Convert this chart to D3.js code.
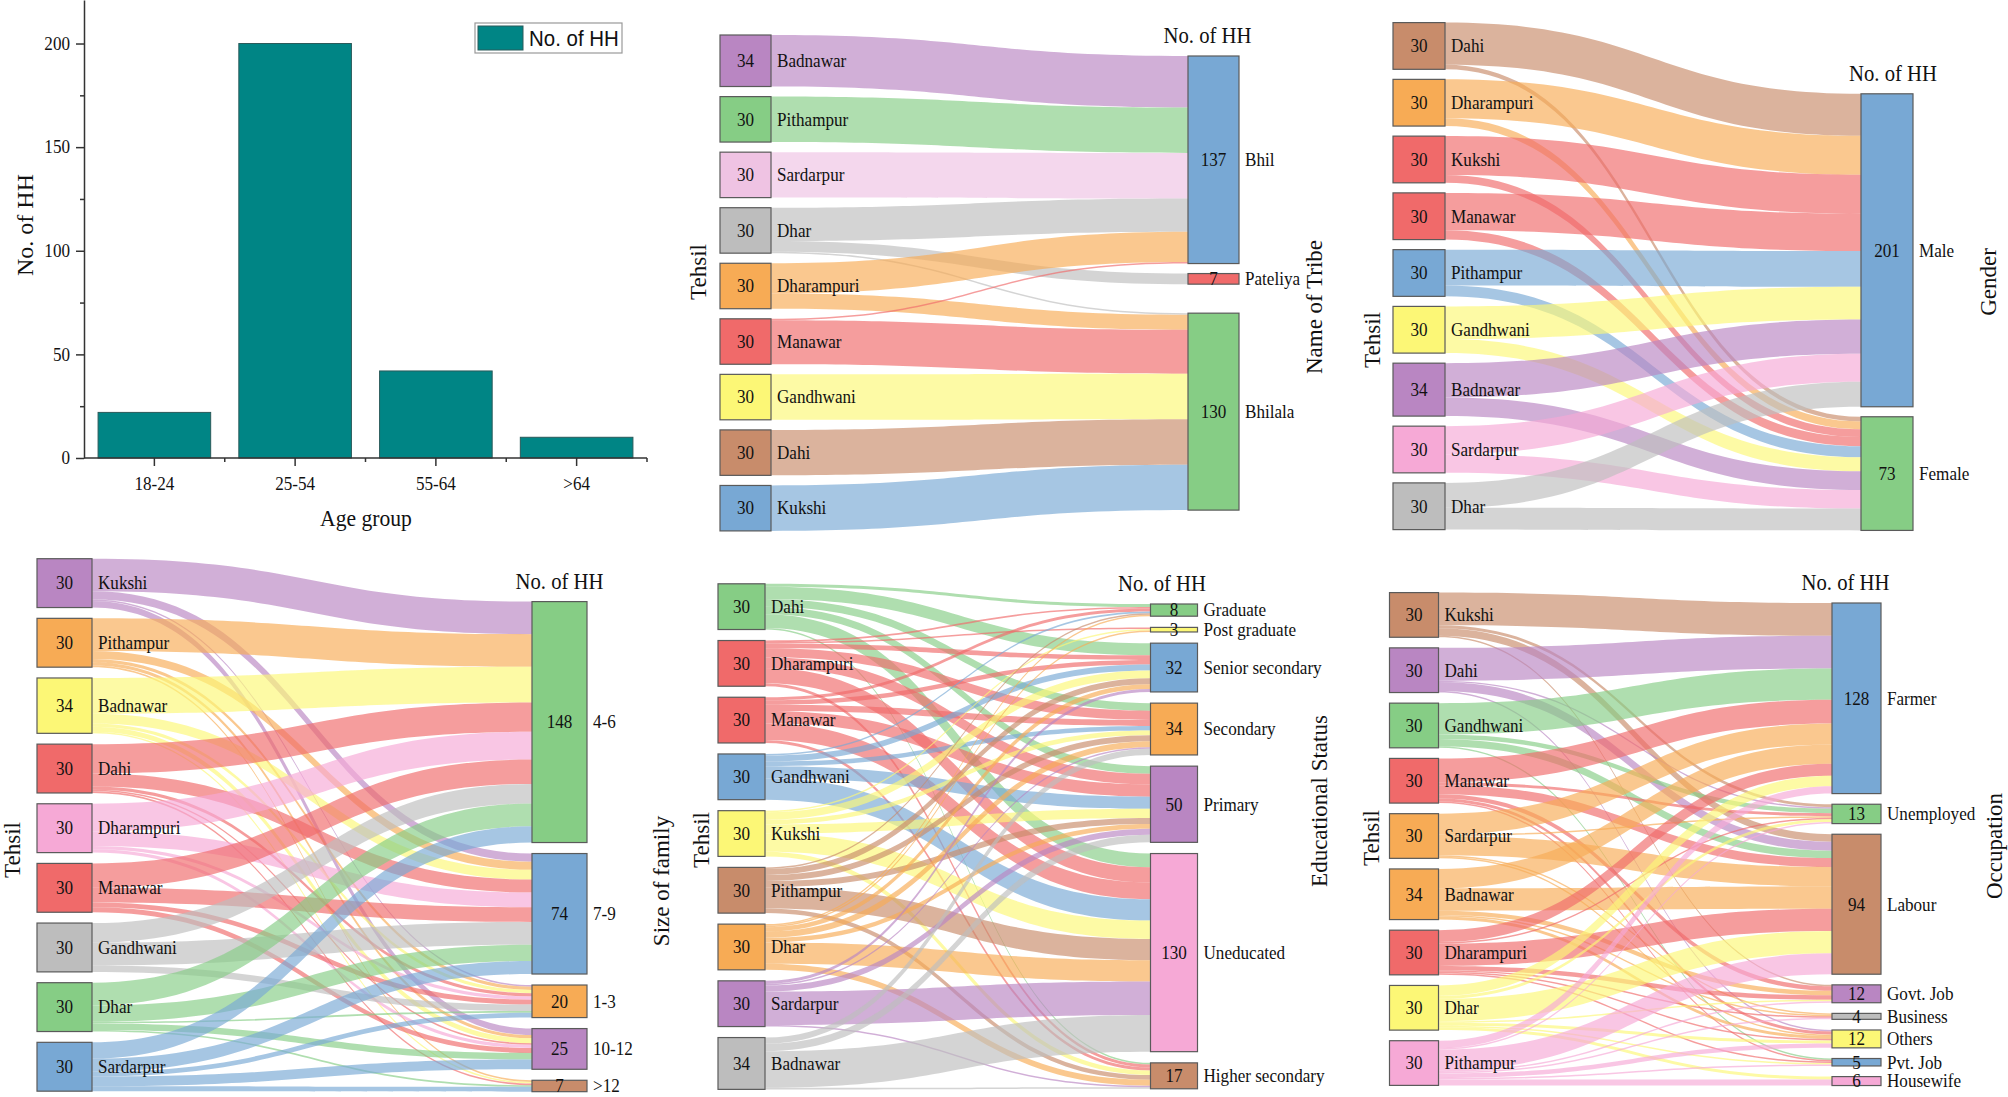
<!DOCTYPE html>
<html><head><meta charset="utf-8">
<script src="https://cdn.jsdelivr.net/npm/d3@7"></script>
<style>
html,body{margin:0;padding:0;background:#fff;}
svg{display:block;}
text{font-family:"Liberation Serif","Times New Roman",serif;fill:#111;}
</style></head><body>
<svg id="chart" width="2008" height="1097"></svg>
<script>
// ================= DATA =================
// Bar chart: age group
const ageGroups = ["18-24", "25-54", "55-64", ">64"];
const ageHH = [22, 200, 42, 10];
const ageTicks = [0, 50, 100, 150, 200];
const ageMinorTicks = [25, 75, 125, 175];

// Sankey 1: Tehsil -> Name of Tribe
const tribeSources = ["Badnawar", "Pithampur", "Sardarpur", "Dhar", "Dharampuri", "Manawar", "Gandhwani", "Dahi", "Kukshi"];
const tribeTargets = ["Bhil", "Pateliya", "Bhilala"];
const tribeFlows = [
  [34, 0, 0], [30, 0, 0], [30, 0, 0], [22, 7, 1], [20, 0, 10],
  [1, 0, 29], [0, 0, 30], [0, 0, 30], [0, 0, 30]
];

// Sankey 2: Tehsil -> Gender
const genderSources = ["Dahi", "Dharampuri", "Kukshi", "Manawar", "Pithampur", "Gandhwani", "Badnawar", "Sardarpur", "Dhar"];
const genderTargets = ["Male", "Female"];
const genderFlows = [[27, 3], [25, 5], [25, 5], [24, 6], [23, 7], [21, 9], [22, 12], [18, 12], [16, 14]];

// Sankey 3: Tehsil -> Size of family
const familySources = ["Kukshi", "Pithampur", "Badnawar", "Dahi", "Dharampuri", "Manawar", "Gandhwani", "Dhar", "Sardarpur"];
const familyTargets = ["4-6", "7-9", "1-3", "10-12", ">12"];
const familyFlows = [
  [20, 5, 1, 4, 0],
  [20, 5, 2, 2, 1],
  [22, 6, 2, 3, 1],
  [18, 8, 2, 1, 1],
  [17, 9, 2, 2, 0],
  [15, 9, 3, 3, 0],
  [12, 14, 4, 0, 0],
  [14, 10, 1, 4, 1],
  [10, 8, 3, 6, 3]
];

// Sankey 4: Tehsil -> Educational Status
const eduSources = ["Dahi", "Dharampuri", "Manawar", "Gandhwani", "Kukshi", "Pithampur", "Dhar", "Sardarpur", "Badnawar"];
const eduTargets = ["Graduate", "Post graduate", "Senior secondary", "Secondary", "Primary", "Uneducated", "Higher secondary"];
const eduFlows = [
  [2, 0, 8, 5, 5, 9, 1],
  [1, 1, 3, 6, 7, 10, 2],
  [2, 0, 3, 4, 8, 11, 2],
  [1, 0, 4, 3, 8, 14, 0],
  [0, 1, 5, 3, 6, 12, 3],
  [1, 0, 4, 4, 4, 14, 3],
  [1, 1, 3, 4, 3, 14, 4],
  [0, 0, 2, 1, 4, 22, 1],
  [0, 0, 0, 4, 5, 24, 1]
];

// Sankey 5: Tehsil -> Occupation
const occSources = ["Kukshi", "Dahi", "Gandhwani", "Manawar", "Sardarpur", "Badnawar", "Dharampuri", "Dhar", "Pithampur"];
const occTargets = ["Farmer", "Unemployed", "Labour", "Govt. Job", "Business", "Others", "Pvt. Job", "Housewife"];
const occFlows = [
  [22, 2, 5, 1, 0, 0, 0, 0],
  [22, 1, 6, 0, 0, 1, 0, 0],
  [21, 3, 5, 0, 0, 0, 1, 0],
  [16, 2, 6, 3, 0, 2, 1, 0],
  [14, 1, 13, 0, 1, 1, 0, 0],
  [13, 0, 15, 3, 1, 2, 0, 0],
  [8, 1, 15, 3, 1, 1, 1, 0],
  [7, 2, 15, 1, 0, 2, 1, 2],
  [5, 1, 14, 1, 1, 3, 1, 4]
];

// ================= STYLE =================
const PAL = {
  blue: "#78a8d4", green: "#86cd85", red: "#f06a6a", orange: "#f7ab55",
  yellow: "#fcf776", purple: "#b986c2", pink: "#f6a9d6", brown: "#c88c6b",
  gray: "#bdbdbd", lpink: "#efc3e3"
};
const tribeColors = { src: ["purple","green","lpink","gray","orange","red","yellow","brown","blue"], tgt: ["blue","red","green"] };
const genderColors = { src: ["brown","orange","red","red","blue","yellow","purple","pink","gray"], tgt: ["blue","green"] };
const familyColors = { src: ["purple","orange","yellow","red","pink","red","gray","green","blue"], tgt: ["green","blue","orange","purple","brown"] };
const eduColors = { src: ["green","red","red","blue","yellow","brown","orange","purple","gray"], tgt: ["green","yellow","blue","orange","purple","pink","brown"] };
const occColors = { src: ["brown","purple","green","red","orange","orange","red","yellow","pink"], tgt: ["blue","green","brown","purple","gray","yellow","blue","pink"] };

const SX = 0.9; // horizontal text compression seen in the reference
const svg = d3.select("#chart");

function txt(g, x, y, s, o = {}) {
  const t = g.append("text")
    .attr("transform", `translate(${x},${y})` + (o.rot ? ` rotate(${o.rot})` : "") + ` scale(${o.sx ?? SX},1)`)
    .attr("text-anchor", o.anchor || "start")
    .attr("dominant-baseline", o.base || "auto")
    .style("font-size", (o.size || 19) + "px")
    .text(s);
  if (o.sans) t.style("font-family", '"Liberation Sans", Arial, sans-serif');
  return t;
}

// ================= BAR CHART =================
(function () {
  const g = svg.append("g");
  const x = d3.scaleBand().domain(ageGroups).range([84, 647]).paddingInner(0.2).paddingOuter(0.1);
  const y = d3.scaleLinear().domain([0, 221]).range([458, 0]);
  g.selectAll("rect.bar").data(ageGroups).join("rect")
    .attr("class", "bar")
    .attr("x", d => x(d)).attr("width", x.bandwidth())
    .attr("y", (d, i) => y(ageHH[i])).attr("height", (d, i) => y(0) - y(ageHH[i]))
    .attr("fill", "#008585").attr("stroke", "#2a5a5a").attr("stroke-width", 1);

  const yAxis = g.append("g").attr("transform", `translate(84,0)`)
    .call(d3.axisLeft(y).tickValues(ageTicks).tickSize(8).tickSizeOuter(0).tickFormat(d3.format("d")));
  const yMinor = g.append("g").attr("transform", `translate(84,0)`)
    .call(d3.axisLeft(y).tickValues(ageMinorTicks).tickSize(4).tickSizeOuter(0).tickFormat(""));
  yMinor.select(".domain").remove();
  yAxis.selectAll(".tick text").remove();
  ageTicks.forEach(v => txt(g, 70, y(v), String(v), { anchor: "end", base: "central", size: 19 }));

  const step = x.step();
  const xAxis = g.append("g").attr("transform", `translate(0,${y(0)})`);
  xAxis.append("line").attr("x1", 84).attr("x2", 647).attr("stroke", "#333").attr("stroke-width", 1.5);
  ageGroups.forEach((d, i) => {
    const cx = x(d) + x.bandwidth() / 2;
    xAxis.append("line").attr("x1", cx).attr("x2", cx).attr("y1", 0).attr("y2", 8).attr("stroke", "#333").attr("stroke-width", 1.5);
    const bx = 84 + step * (i + 1);
    xAxis.append("line").attr("x1", bx).attr("x2", bx).attr("y1", 0).attr("y2", 4).attr("stroke", "#333").attr("stroke-width", 1.5);
    txt(g, cx, 490, d, { anchor: "middle", size: 19 });
  });
  g.selectAll(".domain, .tick line").attr("stroke", "#333").attr("stroke-width", 1.5);

  txt(g, 366, 526, "Age group", { anchor: "middle", size: 24 });
  txt(g, 33, 225, "No. of HH", { anchor: "middle", size: 24, rot: -90, sx: 1 });

  // legend
  g.append("rect").attr("x", 475).attr("y", 23).attr("width", 147).attr("height", 30)
    .attr("fill", "#fff").attr("stroke", "#999").attr("stroke-width", 1.2);
  g.append("rect").attr("x", 478).attr("y", 26).attr("width", 45).attr("height", 24)
    .attr("fill", "#008585").attr("stroke", "#2a5a5a");
  txt(g, 529, 39, "No. of HH", { base: "central", size: 22, sans: true, sx: 0.93 });
})();

// ================= SANKEY =================
function drawSankey(cfg, sources, targets, flows, colors) {
  const g = svg.append("g");
  const sVal = flows.map(r => d3.sum(r));
  const tVal = targets.map((_, j) => d3.sum(flows, r => r[j]));
  const total = d3.sum(sVal);
  const h = d3.scaleLinear().domain([0, total]).range([0, total * cfg.k]);

  let yy = cfg.srcTop;
  const sNodes = sources.map((name, i) => {
    const n = { name, value: sVal[i], x0: cfg.srcX, x1: cfg.srcX + cfg.w, y0: yy, y1: yy + h(sVal[i]), color: PAL[colors.src[i]] };
    yy = n.y1 + cfg.srcGap; return n;
  });
  yy = cfg.tgtTop;
  const tNodes = targets.map((name, j) => {
    const n = { name, value: tVal[j], x0: cfg.tgtX, x1: cfg.tgtX + cfg.w, y0: yy, y1: yy + h(tVal[j]), color: PAL[colors.tgt[j]] };
    yy = n.y1 + (cfg.tgtGaps ? cfg.tgtGaps[j] : cfg.tgtGap); return n;
  });

  const sOff = sNodes.map(n => n.y0), tOff = tNodes.map(n => n.y0);
  const links = [];
  flows.forEach((row, i) => row.forEach((v, j) => {
    if (v <= 0) return;
    const w = h(v);
    links.push({ i, j, v, sy0: sOff[i], sy1: sOff[i] + w, ty0: tOff[j], ty1: tOff[j] + w });
    sOff[i] += w; tOff[j] += w;
  }));

  const xa = cfg.srcX + cfg.w, xb = cfg.tgtX, xm = (xa + xb) / 2;
  g.append("g").selectAll("path").data(links).join("path")
    .attr("d", l => `M${xa},${l.sy0}C${xm},${l.sy0} ${xm},${l.ty0} ${xb},${l.ty0}L${xb},${l.ty1}C${xm},${l.ty1} ${xm},${l.sy1} ${xa},${l.sy1}Z`)
    .attr("fill", l => sNodes[l.i].color)
    .attr("fill-opacity", 0.66);

  const all = sNodes.concat(tNodes);
  g.append("g").selectAll("rect").data(all).join("rect")
    .attr("x", d => d.x0).attr("y", d => d.y0)
    .attr("width", d => d.x1 - d.x0).attr("height", d => d.y1 - d.y0)
    .attr("fill", d => d.color).attr("stroke", "#5a5a5a").attr("stroke-width", 1.2);

  all.forEach(n => {
    const cy = (n.y0 + n.y1) / 2;
    txt(g, (n.x0 + n.x1) / 2, cy, String(n.value), { anchor: "middle", base: "central", size: 19 });
    txt(g, n.x1 + 6, cy, n.name, { base: "central", size: 19 });
  });

  txt(g, cfg.tgtX + cfg.w / 2 + (cfg.headDx || 0), cfg.tgtTop - 13, "No. of HH", { anchor: "middle", size: 23 });
  txt(g, cfg.leftX, cfg.leftY, "Tehsil", { anchor: "middle", size: 23, rot: -90, sx: 1 });
  txt(g, cfg.rightX, cfg.rightY, cfg.rightTitle, { anchor: "middle", size: 23, rot: -90, sx: 1 });
}

drawSankey({ srcX: 720, tgtX: 1188, w: 51, k: 1.515, srcTop: 35, srcGap: 10.1, tgtTop: 56, tgtGaps: [10, 29],
  leftX: 706, leftY: 272, rightX: 1322, rightY: 307, rightTitle: "Name of Tribe", headDx: -6 },
  tribeSources, tribeTargets, tribeFlows, tribeColors);

drawSankey({ srcX: 1393, tgtX: 1861, w: 52, k: 1.557, srcTop: 22.6, srcGap: 10.05, tgtTop: 93.8, tgtGap: 10,
  leftX: 1380, leftY: 340, rightX: 1996, rightY: 282, rightTitle: "Gender", headDx: 6 },
  genderSources, genderTargets, genderFlows, genderColors);

drawSankey({ srcX: 37, tgtX: 532, w: 55, k: 1.628, srcTop: 558.7, srcGap: 10.8, tgtTop: 601.6, tgtGap: 11,
  leftX: 20, leftY: 850, rightX: 669, rightY: 881, rightTitle: "Size of family" },
  familySources, familyTargets, familyFlows, familyColors);

drawSankey({ srcX: 718, tgtX: 1150.5, w: 47, k: 1.524, srcTop: 583.8, srcGap: 11, tgtTop: 604, tgtGap: 11.2,
  leftX: 709, leftY: 840, rightX: 1327, rightY: 801, rightTitle: "Educational Status", headDx: -12 },
  eduSources, eduTargets, eduFlows, eduColors);

drawSankey({ srcX: 1389.5, tgtX: 1832, w: 49, k: 1.489, srcTop: 592.6, srcGap: 10.6, tgtTop: 603, tgtGap: 10.65,
  leftX: 1379, leftY: 838, rightX: 2002, rightY: 846, rightTitle: "Occupation", headDx: -11 },
  occSources, occTargets, occFlows, occColors);
</script>
</body></html>
